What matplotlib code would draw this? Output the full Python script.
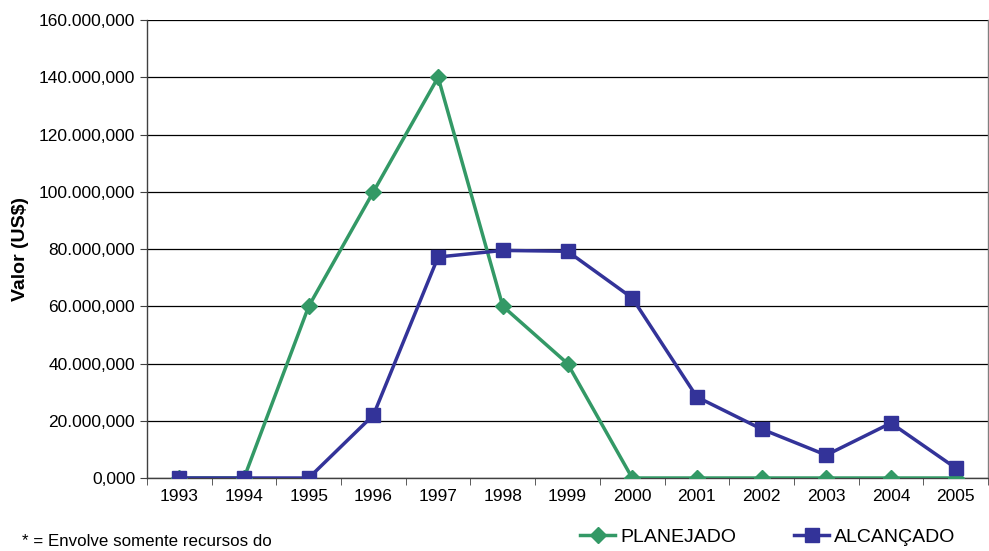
import matplotlib.pyplot as plt
from matplotlib.ticker import FuncFormatter
import numpy as np

plt.rcParams["font.family"] = ["Liberation Sans", "DejaVu Sans"]

GREEN = "#339966"
BLUE = "#333399"

years = ["1993", "1994", "1995", "1996", "1997", "1998", "1999",
         "2000", "2001", "2002", "2003", "2004", "2005"]
planejado = [0, 0, 60e6, 100e6, 140e6, 60e6, 40e6, 0, 0, 0, 0, 0, 0]
alcancado = [0, 0, 0, 22.0e6, 77.2e6, 79.5e6, 79.2e6, 62.9e6,
             28.3e6, 17.1e6, 8.0e6, 19.2e6, 3.5e6]


def br_fmt(v, pos):
    # labels look like 160.000,000 (millions with a "decimal" part)
    return f"{int(round(v / 1e6))}.000,000" if v else "0,000"


fig = plt.figure(figsize=(9.89, 5.51), dpi=100)
ax = fig.add_axes([147 / 989, 1 - 478 / 551, 841 / 989, 458 / 551])

x = np.arange(len(years))
ax.plot(x, planejado, color=GREEN, lw=2.5, marker="D", ms=8.5, label="PLANEJADO", zorder=3)
ax.plot(x, alcancado, color=BLUE, lw=2.5, marker="s", ms=10, label="ALCANÇADO", zorder=4)

ax.set_xlim(-0.5, len(years) - 0.5)
ax.set_ylim(0, 160e6)
ax.set_yticks(np.arange(0, 160e6 + 1, 20e6))
ax.yaxis.set_major_formatter(FuncFormatter(br_fmt))
ax.set_xticks(x)
ax.set_xticklabels(years)
ax.set_xticks(np.arange(-0.5, len(years), 1), minor=True)
ax.tick_params(axis="x", which="major", length=0, pad=8, labelsize=12.5)
ax.tick_params(axis="x", which="minor", length=5, direction="out", color="#404040")
ax.tick_params(axis="y", length=5, direction="out", labelsize=12.5, color="#404040")

ax.grid(axis="y", color="black", lw=0.9, zorder=0)
ax.spines["top"].set_visible(False)
ax.spines["right"].set_color("#808080")
ax.spines["left"].set_color("#404040")
ax.spines["bottom"].set_color("#404040")
for s in ax.spines.values():
    s.set_linewidth(1.0)

ax.set_ylabel("Valor (US$)", fontsize=14, fontweight="bold")
ax.yaxis.set_label_coords((29 - 147) / 841, 0.5)

fig.legend(loc="center", bbox_to_anchor=(768 / 989, 1 - 537 / 551), ncol=2,
           frameon=False, fontsize=14, handlelength=1.8, columnspacing=3.0,
           handletextpad=0.25)
fig.text(22 / 989, 1 - 542 / 551, "* = Envolve somente recursos do", fontsize=12.2,
         va="center")

fig.savefig("out.png", dpi=100)
